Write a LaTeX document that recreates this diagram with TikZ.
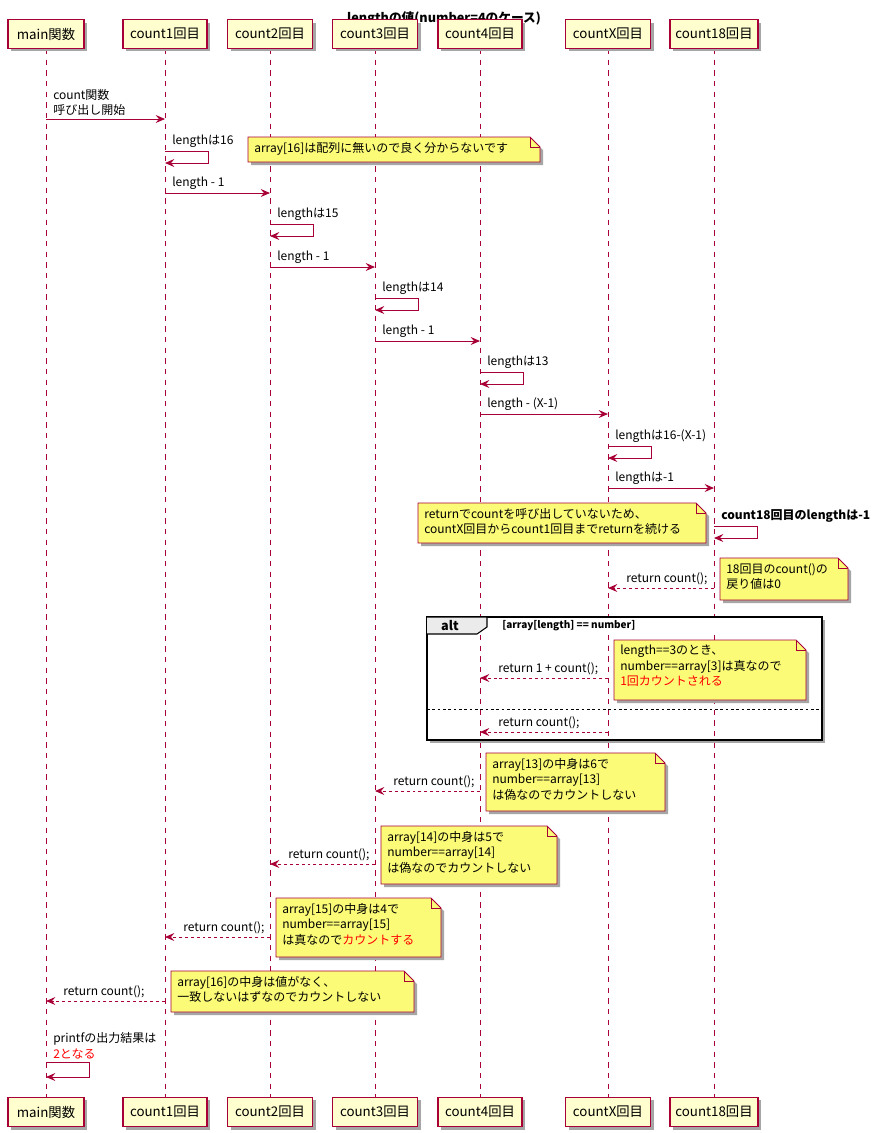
\documentclass[tikz,border=0pt]{standalone}
\usepackage{fontspec}
\setmainfont{Noto Sans CJK JP}
\usetikzlibrary{arrows.meta}
\definecolor{ln}{HTML}{A80036}
\definecolor{pf}{HTML}{FEFECE}
\definecolor{nf}{HTML}{FBFB77}
\begin{document}
\begin{tikzpicture}[x=0.75pt,y=-0.75pt,
  every node/.style={font=\fontsize{9}{11.5}\selectfont,inner sep=0pt},
  msg/.style={draw=ln,line width=0.7pt,-{Stealth[length=7pt,width=6pt,inset=2.5pt]}},
  ret/.style={msg,dash pattern=on 2.2pt off 2.2pt},
  lab/.style={anchor=south west,align=left},
  part/.style={draw=ln,fill=pf,line width=0.8pt,minimum height=22pt,font=\fontsize{10}{12}\selectfont}]
\useasboundingbox (0,0) rectangle (889,1133);
\fill[white] (0,0) rectangle (889,1133);
\node[font=\bfseries\fontsize{9.5}{11}\selectfont] (title) at (444,19) {lengthの値(number=4のケース)};
% lifelines
\foreach \n/\x/\w/\t in {m/46/76/main関数,a/165/84/count1回目,b/270/85/count2回目,c/375/85/count3回目,d/480/84/count4回目,x/608/85/countX回目,e/714/88/count18回目}{
  \draw[ln,dash pattern=on 4pt off 4pt,line width=0.6pt] (\x,49) -- (\x,1097);
  \fill[black!35] (\x-\w/2+3,23) rectangle (\x+\w/2+3,51);
  \node[part,minimum width=\w*0.75pt] (\n top) at (\x,34) {\t};
  \fill[black!35] (\x-\w/2+3,1100) rectangle (\x+\w/2+3,1130);
  \node[part,minimum width=\w*0.75pt] (\n bot) at (\x,1112) {\t};
}
\newcommand{\selfm}[4]{% x, y1, y2, label
  \draw[msg] (#1,#2) -- (#1+43,#2) -- (#1+43,#3) -- (#1,#3);
  \node[lab] at (#1+7,#2-3) {#4};}
\newcommand{\unote}[5]{% x1,y1,x2,y2,text
  \fill[black!35] (#1+3,#2+3) -- (#3-7,#2+3) -- (#3+3,#2+13) -- (#3+3,#4+3) -- (#1+3,#4+3) -- cycle;
  \draw[ln,fill=nf,line width=0.6pt] (#1,#2) -- (#3-10,#2) -- (#3,#2+10) -- (#3,#4) -- (#1,#4) -- cycle;
  \draw[ln,line width=0.6pt] (#3-10,#2) -- (#3-10,#2+10) -- (#3,#2+10);
  \node[anchor=north west,align=left] at (#1+6,(#2+5) {#5};}
% messages
\draw[msg] (46,119) -- (165,119);
\node[lab] at (53,116) {count関数\\呼び出し開始};
\selfm{165}{151}{163}{lengthは16}
\unote{248}{137}{540}{162}{array[16]は配列に無いので良く分からないです}
\draw[msg] (165,193) -- (270,193); \node[lab] at (172,190) {length - 1};
\selfm{270}{224}{236}{lengthは15}
\draw[msg] (270,267) -- (375,267); \node[lab] at (277,264) {length - 1};
\selfm{375}{298}{310}{lengthは14}
\draw[msg] (375,341) -- (480,341); \node[lab] at (382,338) {length - 1};
\selfm{480}{372}{384}{lengthは13}
\draw[msg] (480,414) -- (608,414); \node[lab] at (487,411) {length - (X-1)};
\selfm{608}{446}{458}{lengthは16-(X-1)}
\draw[msg] (608,488) -- (714,488); \node[lab] at (615,485) {lengthは-1};
\selfm{714}{526}{538}{\bfseries count18回目のlengthは-1}
\unote{418}{503}{706}{543}{returnでcountを呼び出していないため、\\countX回目からcount1回目までreturnを続ける}
\draw[ret] (714,588) -- (608,588); \node[lab] at (626,585) {return count();};
\unote{720}{558}{848}{600}{18回目のcount()の\\戻り値は0}
% alt
\fill[black!35] (430,620) rectangle (825,743);
\draw[black,fill=white,line width=1.3pt] (427,617) rectangle (822,740);
\draw[black,fill=black!8,line width=0.8pt] (427,617) -- (487,617) -- (487,627) -- (477,634) -- (427,634);
\node[font=\bfseries\fontsize{9.5}{11}\selectfont] at (450,626) {alt};
\node[anchor=west,font=\bfseries\fontsize{7.5}{9}\selectfont] at (502,626) {[array[length] == number]};
\draw[black,dash pattern=on 2pt off 2pt,line width=0.6pt] (427,709) -- (822,709);
\draw[ln,dash pattern=on 4pt off 4pt,line width=0.6pt] (480,635) -- (480,739) (608,635) -- (608,739) (714,635) -- (714,739);
\draw[ret] (608,678) -- (480,678); \node[lab] at (498,675) {return 1 + count();};
\unote{614}{640}{806}{700}{length==3のとき、\\number==array[3]は真なので\\\textcolor{red}{1回カウントされる}}
\draw[ret] (608,732) -- (480,732); \node[lab] at (498,729) {return count();};
\draw[ret] (480,791) -- (375,791); \node[lab] at (393,788) {return count();};
\unote{486}{753}{665}{811}{array[13]の中身は6で\\number==array[13]\\は偽なのでカウントしない}
\draw[ret] (375,864) -- (270,864); \node[lab] at (288,861) {return count();};
\unote{381}{826}{557}{884}{array[14]の中身は5で\\number==array[14]\\は偽なのでカウントしない}
\draw[ret] (270,937) -- (165,937); \node[lab] at (183,934) {return count();};
\unote{276}{898}{441}{957}{array[15]の中身は4で\\number==array[15]\\は真なので\textcolor{red}{カウントする}}
\draw[ret] (165,1001) -- (46,1001); \node[lab] at (63,998) {return count();};
\unote{171}{971}{414}{1012}{array[16]の中身は値がなく、\\一致しないはずなのでカウントしない}
\draw[msg] (46,1062) -- (89,1062) -- (89,1077) -- (46,1077);
\node[lab] at (53,1059) {printfの出力結果は\\\textcolor{red}{2となる}};
\end{tikzpicture}
\end{document}
